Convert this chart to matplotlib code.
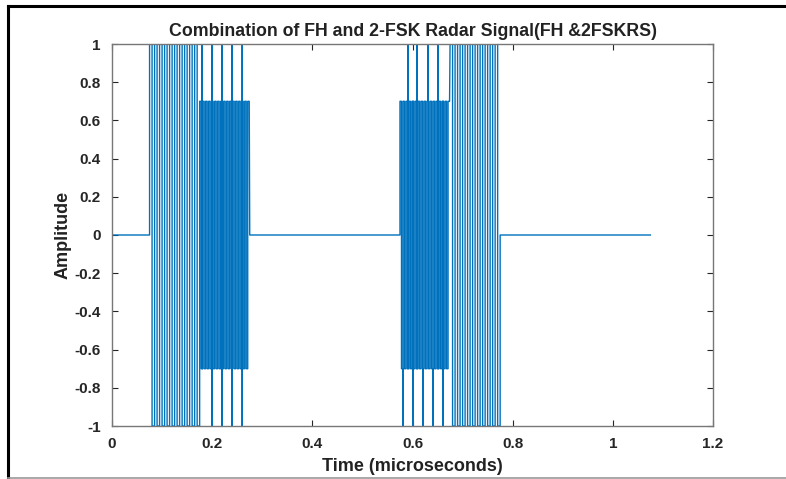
import numpy as np
import matplotlib
matplotlib.use("Agg")
import matplotlib.pyplot as plt
from matplotlib.lines import Line2D

# burst segments (microseconds)
seg_start = [0.075, 0.175, 0.575, 0.675]
seg_end = [0.175, 0.275, 0.675, 0.775]
seg_amp = [1.0, 0.7, 0.7, 1.0]
seg_period = [0.01, 0.006, 0.006, 0.01]

# lines that reach full scale inside the 0.7 parts
spike_up = [0.18, 0.20, 0.22, 0.24, 0.26, 0.591, 0.609, 0.631, 0.651]
spike_down = [0.162, 0.17, 0.20, 0.22, 0.24, 0.26, 0.581, 0.601, 0.621, 0.641, 0.661]

t_end = 1.075
xticks = [0, 0.2, 0.4, 0.6, 0.8, 1, 1.2]
yticks = [-1, -0.8, -0.6, -0.4, -0.2, 0, 0.2, 0.4, 0.6, 0.8, 1]


def square(t0, t1, amp, period):
    edges = np.arange(t0, t1 + 1e-9, period / 2)
    tt, yy = [], []
    for i in range(len(edges) - 1):
        v = amp if i % 2 == 0 else -amp
        tt += [edges[i], edges[i + 1]]
        yy += [v, v]
    return tt, yy


t = [0.0, seg_start[0]]
y = [0.0, 0.0]
for i in range(len(seg_start)):
    tt, yy = square(seg_start[i], seg_end[i], seg_amp[i], seg_period[i])
    t += tt
    y += yy
    if i == 1:
        t += [seg_end[1], seg_start[2]]
        y += [0.0, 0.0]
t += [seg_end[-1], t_end]
y += [0.0, 0.0]

# put the spikes in as vertical strokes at the right place in the sequence
pts = list(zip(t, y))
for s, v in [(s, 1.0) for s in spike_up] + [(s, -1.0) for s in spike_down]:
    tarr = np.array([p[0] for p in pts])
    k = int(np.searchsorted(tarr, s))
    base = pts[k - 1][1]
    pts[k:k] = [(s, base), (s, v), (s, base)]
t = np.array([p[0] for p in pts])
y = np.array([p[1] for p in pts])

plt.rcParams['font.family'] = ['Liberation Sans', 'DejaVu Sans']
plt.rcParams['font.weight'] = 'bold'

fig = plt.figure(figsize=(7.86, 4.79), dpi=100)
ax = fig.add_axes([112 / 786, 1 - 426 / 479, 601 / 786, 382 / 479])
ax.plot(t, y, color='#0072BD', lw=1.0)

ax.set_xlim(0, 1.2)
ax.set_ylim(-1, 1)
ax.set_xticks(xticks)
ax.set_xticklabels(['0', '0.2', '0.4', '0.6', '0.8', '1', '1.2'])
ax.set_yticks(yticks)
ax.set_yticklabels(['-1', '-0.8', '-0.6', '-0.4', '-0.2', '0', '0.2', '0.4', '0.6', '0.8', '1'])
ax.tick_params(direction='in', top=True, right=True, length=4, width=0.8,
               labelsize=11, colors='#262626', pad=8)
for sp in ax.spines.values():
    sp.set_color('#777777')
    sp.set_linewidth(1.0)

ax.set_title('Combination of FH and 2-FSK Radar Signal(FH &2FSKRS)',
             fontsize=12.8, fontweight='bold', color='#222222', pad=6)
ax.set_xlabel('Time (microseconds)', fontsize=13, fontweight='bold', color='#222222', labelpad=5)
ax.set_ylabel('Amplitude', fontsize=13, fontweight='bold', color='#222222', labelpad=2)

# outer frame of the picture
fig.add_artist(Line2D([8 / 786, 785 / 786], [1 - 6 / 479, 1 - 6 / 479], color='black', lw=2.2))
fig.add_artist(Line2D([8 / 786, 8 / 786], [1 - 6 / 479, 0], color='black', lw=2.2))
fig.add_artist(Line2D([8 / 786, 1], [1 / 479, 1 / 479], color='#999999', lw=1.2))

fig.savefig('out.png', dpi=100)
